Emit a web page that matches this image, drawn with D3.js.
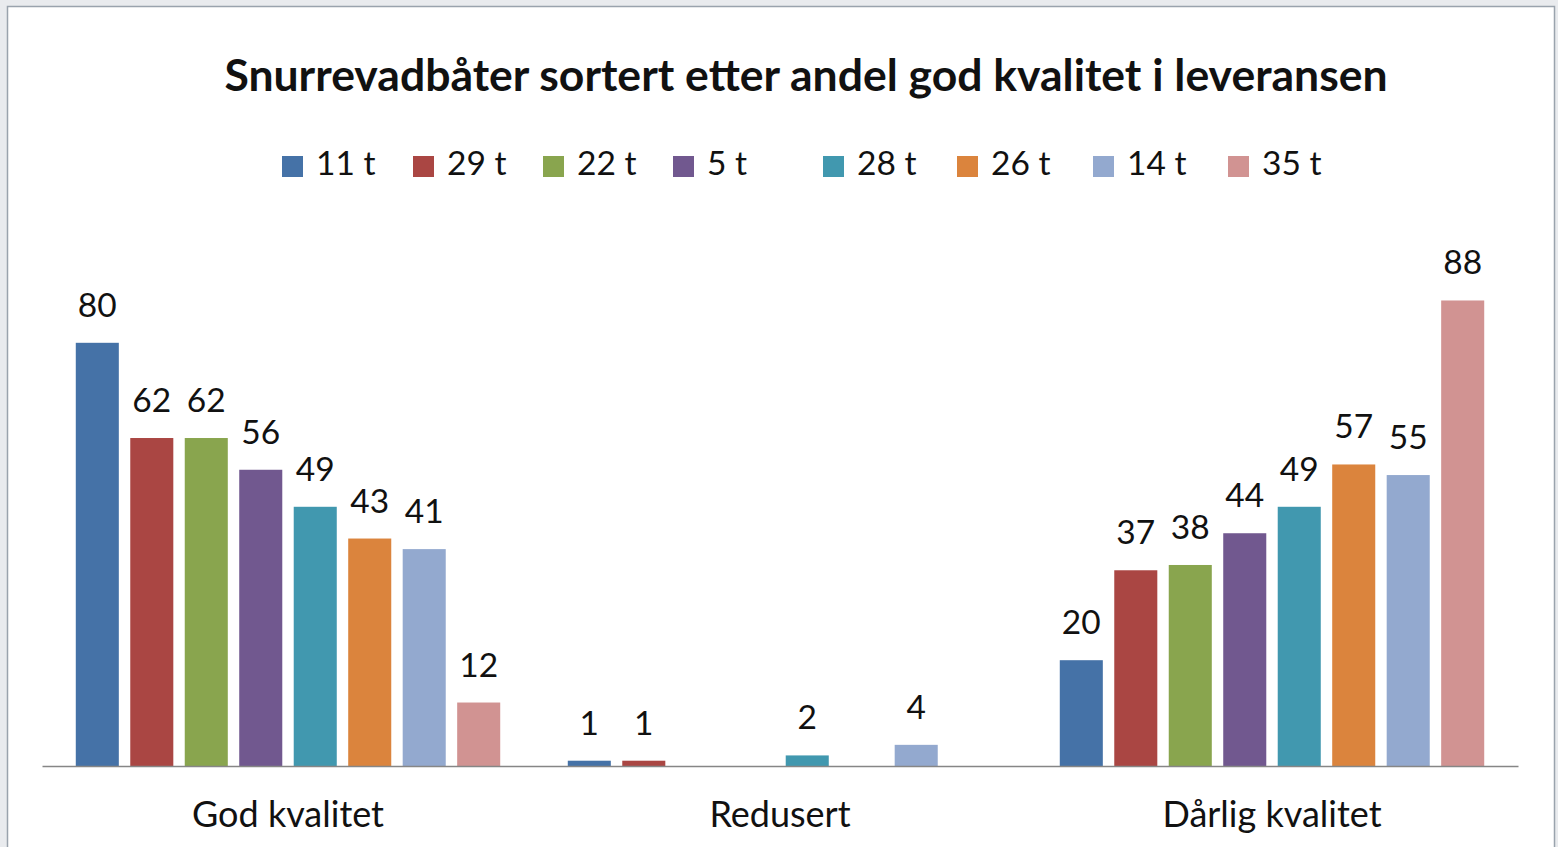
<!DOCTYPE html>
<html><head><meta charset="utf-8">
<script src="https://cdn.jsdelivr.net/npm/d3@7"></script>
<style>
html,body{margin:0;padding:0;background:#e9ebee;}
svg{display:block;}
</style></head>
<body>
<svg id="chart" width="1558" height="847"></svg>
<script>
const title = "Snurrevadbåter sortert etter andel god kvalitet i leveransen";
const categories = ["God kvalitet", "Redusert", "Dårlig kvalitet"];
const seriesNames = ["11 t", "29 t", "22 t", "5 t", "28 t", "26 t", "14 t", "35 t"];
const colors = ["#4572A7", "#AA4643", "#89A54E", "#71588F", "#4198AF", "#DB843D", "#93A9CF", "#D19392"];
const godKvalitet    = [80, 62, 62, 56, 49, 43, 41, 12];
const redusert       = [1, 1, null, null, 2, null, 4, null];
const darligKvalitet = [20, 37, 38, 44, 49, 57, 55, 88];
const seriesValues = [godKvalitet, redusert, darligKvalitet];

const svg = d3.select("#chart");
const font = "Lato, 'Open Sans', sans-serif";

// chart area frame
svg.append("rect").attr("x", 7.5).attr("y", 6.5).attr("width", 1547).attr("height", 850)
  .attr("fill", "#ffffff").attr("stroke", "#9aa3ad").attr("stroke-width", 1.5);

const plot = {left: 42, right: 1518, top: 237, bottom: 766};
const x0 = d3.scaleBand().domain(categories).range([plot.left, plot.right]).padding(0);
const x1 = d3.scaleBand().domain(seriesNames).range([0, x0.bandwidth()]).paddingInner(0.21).paddingOuter(0.62);
const y = d3.scaleLinear().domain([0, 100]).range([plot.bottom, plot.top]);

// Title
svg.append("text").attr("x", 806).attr("y", 91).attr("text-anchor", "middle")
  .attr("font-family", font).attr("font-weight", "bold").attr("font-size", 44.5)
  .attr("fill", "#111").text(title);

// Legend
const legendX = [282, 413, 543, 673, 823, 957, 1093, 1228];
const lg = svg.append("g");
seriesNames.forEach((s, i) => {
  const g = lg.append("g").attr("transform", `translate(${legendX[i]},0)`);
  g.append("rect").attr("x", 0).attr("y", 156).attr("width", 21).attr("height", 21).attr("fill", colors[i]);
  g.append("text").attr("x", 34).attr("y", 175).attr("font-family", font).attr("font-size", 33.5)
    .attr("fill", "#111").text(s);
});

// Bars
const groups = svg.append("g").selectAll("g").data(categories).join("g")
  .attr("transform", d => `translate(${x0(d)},0)`);
groups.each(function(cat, ci) {
  const g = d3.select(this);
  const data = seriesNames.map((s, i) => ({s, i, v: seriesValues[ci][i]})).filter(d => d.v !== null);
  g.selectAll("rect").data(data).join("rect")
    .attr("x", d => x1(d.s)).attr("width", x1.bandwidth())
    .attr("y", d => y(d.v)).attr("height", d => y(0) - y(d.v))
    .attr("fill", d => colors[d.i]);
  g.selectAll("text").data(data).join("text")
    .attr("x", d => x1(d.s) + x1.bandwidth() / 2)
    .attr("y", d => y(d.v) - 26)
    .attr("text-anchor", "middle").attr("font-family", font).attr("font-size", 33.5)
    .attr("fill", "#111").text(d => d.v);
});

// Axis
const axis = d3.axisBottom(x0).tickSize(0);
const ax = svg.append("g").attr("transform", `translate(0,${plot.bottom})`).call(axis);
ax.select(".domain").attr("stroke", "#868686").attr("stroke-width", 1.5);
ax.selectAll("text").attr("font-family", font).attr("font-size", 36).attr("fill", "#111")
  .attr("y", 61).attr("dy", null);
</script>
</body></html>
